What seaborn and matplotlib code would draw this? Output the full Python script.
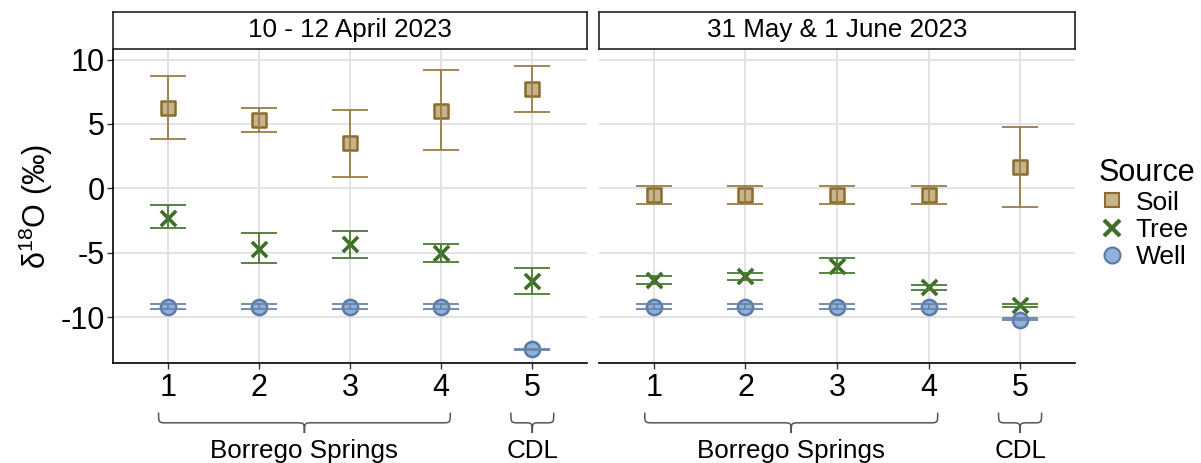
import numpy as np
import pandas as pd
import matplotlib
matplotlib.use("Agg")
import matplotlib.pyplot as plt
import matplotlib.transforms as mtransforms
from matplotlib.path import Path
from matplotlib.patches import PathPatch
from matplotlib.lines import Line2D
import seaborn as sns

# ---- data -------------------------------------------------------------
panels = ["10 - 12 April 2023", "31 May & 1 June 2023"]
sites = [1, 2, 3, 4, 5]
sources = ["Soil", "Tree", "Well"]

# April campaign: mean, upper, lower
apr_soil_mean = [6.2, 5.3, 3.5, 6.0, 7.7]
apr_soil_hi = [8.7, 6.2, 6.1, 9.2, 9.5]
apr_soil_lo = [3.8, 4.4, 0.9, 3.0, 5.9]
apr_tree_mean = [-2.3, -4.7, -4.3, -5.0, -7.2]
apr_tree_hi = [-1.3, -3.5, -3.3, -4.3, -6.2]
apr_tree_lo = [-3.1, -5.8, -5.4, -5.7, -8.2]
apr_well_mean = [-9.2, -9.2, -9.2, -9.2, -12.5]
apr_well_hi = [-9.0, -9.0, -9.0, -9.0, -12.45]
apr_well_lo = [-9.4, -9.4, -9.4, -9.4, -12.55]

# May/June campaign
jun_soil_mean = [-0.55, -0.55, -0.55, -0.55, 1.65]
jun_soil_hi = [0.15, 0.15, 0.15, 0.15, 4.8]
jun_soil_lo = [-1.25, -1.25, -1.25, -1.25, -1.45]
jun_tree_mean = [-7.1, -6.85, -6.0, -7.7, -9.1]
jun_tree_hi = [-6.8, -6.6, -5.4, -7.5, -9.0]
jun_tree_lo = [-7.45, -7.1, -6.55, -7.9, -9.25]
jun_well_mean = [-9.2, -9.2, -9.2, -9.2, -10.2]
jun_well_hi = [-9.0, -9.0, -9.0, -9.0, -10.1]
jun_well_lo = [-9.4, -9.4, -9.4, -9.4, -10.2]

yticks = [-10, -5, 0, 5, 10]
site_groups = [("Borrego Springs", 1, 4), ("CDL", 5, 5)]

# ---- long table -------------------------------------------------------
rows = []
tables = {
    panels[0]: {"Soil": (apr_soil_mean, apr_soil_lo, apr_soil_hi),
                "Tree": (apr_tree_mean, apr_tree_lo, apr_tree_hi),
                "Well": (apr_well_mean, apr_well_lo, apr_well_hi)},
    panels[1]: {"Soil": (jun_soil_mean, jun_soil_lo, jun_soil_hi),
                "Tree": (jun_tree_mean, jun_tree_lo, jun_tree_hi),
                "Well": (jun_well_mean, jun_well_lo, jun_well_hi)},
}
for p in panels:
    for s in sources:
        m, lo, hi = tables[p][s]
        for i, site in enumerate(sites):
            rows.append(dict(panel=p, site=site, source=s, mean=m[i], lo=lo[i], hi=hi[i]))
df = pd.DataFrame(rows)

# ---- styling ----------------------------------------------------------
sns.set_theme(style="white")
plt.rcParams["font.family"] = ["Liberation Sans", "DejaVu Sans"]
plt.rcParams["mathtext.fontset"] = "custom"
plt.rcParams["mathtext.rm"] = "Liberation Sans"
plt.rcParams["text.color"] = "black"
plt.rcParams["axes.labelcolor"] = "black"
plt.rcParams["xtick.color"] = "black"
plt.rcParams["ytick.color"] = "black"

fill = {"Soil": "#c8b48c", "Tree": "#3f6e29", "Well": "#90b1de"}
edge = {"Soil": "#8a6c2c", "Tree": "#3f6e29", "Well": "#5b7aa3"}
barc = {"Soil": "#987d45", "Tree": "#4b7a35", "Well": "#6a84a8"}
marker = {"Soil": "s", "Tree": "x", "Well": "o"}
msize = {"Soil": 110, "Tree": 120, "Well": 120}

W, H = 1201, 463
fig = plt.figure(figsize=(W / 100, H / 100), dpi=100)

ax_boxes = [(113, 49, 587, 363), (599, 49, 1075, 363)]
strip_top = 12
ylim = (-13.57, 10.82)
xlim = (0.4, 5.6)


def brace(ax, x0, x1, y0, depth, r, **kw):
    """Curly brace spanning x0..x1 (data units) hanging from y0 (axes fraction)."""
    trans = mtransforms.blended_transform_factory(ax.transData, ax.transAxes)
    xm = (x0 + x1) / 2
    yh = y0 - depth / 2
    yt = y0 - depth
    verts = [(x0, y0), (x0, yh), (x0, yh), (x0 + r, yh),
             (xm - r, yh), (xm, yh), (xm, yh), (xm, yt),
             (xm, yh), (xm, yh), (xm + r, yh),
             (x1 - r, yh), (x1, yh), (x1, yh), (x1, y0)]
    codes = [Path.MOVETO, Path.CURVE4, Path.CURVE4, Path.CURVE4,
             Path.LINETO, Path.CURVE4, Path.CURVE4, Path.CURVE4,
             Path.CURVE4, Path.CURVE4, Path.CURVE4,
             Path.LINETO, Path.CURVE4, Path.CURVE4, Path.CURVE4]
    ax.add_patch(PathPatch(Path(verts, codes), transform=trans, fill=False,
                           clip_on=False, **kw))


for k, p in enumerate(panels):
    l, t, r_, b = ax_boxes[k]
    ax = fig.add_axes([l / W, 1 - b / H, (r_ - l) / W, (b - t) / H])
    sub = df[df.panel == p]

    for s in sources:
        d = sub[sub.source == s]
        if s == "Tree":
            sns.scatterplot(data=d, x="site", y="mean", marker="x", s=msize[s],
                            color=fill[s], linewidth=2.6, ax=ax, zorder=3,
                            legend=False)
        else:
            sns.scatterplot(data=d, x="site", y="mean", marker=marker[s],
                            s=msize[s], color=fill[s], edgecolor=edge[s],
                            linewidth=1.8, ax=ax, zorder=3, legend=False)
        ax.errorbar(d.site, d["mean"],
                    yerr=[d["mean"] - d.lo, d.hi - d["mean"]],
                    fmt="none", ecolor=barc[s], elinewidth=1.3, capsize=13.2,
                    capthick=1.3, zorder=4)

    ax.set_xlim(*xlim)
    ax.set_ylim(*ylim)
    ax.set_xticks(sites)
    ax.set_xticklabels([str(s) for s in sites], fontsize=22)
    ax.set_yticks(yticks)
    ax.grid(True, color="#e3e3e3", linewidth=1.4)
    ax.set_axisbelow(True)
    for side in ["top", "right"]:
        ax.spines[side].set_visible(False)
    ax.spines["bottom"].set_color("black")
    ax.spines["bottom"].set_linewidth(1.2)
    ax.set_xlabel("")
    if k == 0:
        ax.spines["left"].set_color("black")
        ax.spines["left"].set_linewidth(1.2)
        ax.set_yticklabels([str(v) for v in yticks], fontsize=22)
        ax.set_ylabel(r"δ$\mathregular{^{18}}$O (‰)", fontsize=22, labelpad=4)
        ax.tick_params(axis="y", left=True, length=4, width=1, color="#333333", pad=2)
    else:
        ax.spines["left"].set_visible(False)
        ax.set_yticklabels([])
        ax.set_ylabel("")
        ax.tick_params(axis="y", left=False, length=0)
    ax.tick_params(axis="x", bottom=True, length=4, width=1, color="#333333", pad=3)

    # site group braces
    trans = mtransforms.blended_transform_factory(ax.transData, ax.transAxes)
    for name, a, bb in site_groups:
        pad = 0.1 if bb > a else 0.235
        brace(ax, a - pad, bb + pad, -0.158, 0.065, 0.09,
              edgecolor="#555555", linewidth=1.1)
        ax.text((a + bb) / 2, -0.28, name, transform=trans, ha="center",
                va="center", fontsize=18.7, clip_on=False)

    # facet strip
    sax = fig.add_axes([l / W, 1 - t / H, (r_ - l) / W, (t - strip_top) / H])
    sax.set_xticks([])
    sax.set_yticks([])
    for sp in sax.spines.values():
        sp.set_visible(True)
        sp.set_color("#222222")
        sp.set_linewidth(1.2)
    sax.set_facecolor("white")
    sax.text(0.5, 0.5, p, ha="center", va="center", fontsize=18.7,
             transform=sax.transAxes)

# legend
handles = [
    Line2D([], [], linestyle="none", marker="s", markersize=10.5,
           markerfacecolor=fill["Soil"], markeredgecolor=edge["Soil"], markeredgewidth=1.5),
    Line2D([], [], linestyle="none", marker="x", markersize=11,
           color=fill["Tree"], markeredgewidth=3),
    Line2D([], [], linestyle="none", marker="o", markersize=11.5,
           markerfacecolor=fill["Well"], markeredgecolor=edge["Well"], markeredgewidth=1.5),
]
fig.legend(handles, sources, title="Source", loc="upper left",
           bbox_to_anchor=(1088 / W, 1 - 147 / H), frameon=False,
           fontsize=19, title_fontsize=22, handletextpad=0.4,
           labelspacing=0.12, borderaxespad=0, handlelength=1.0,
           alignment="left")

fig.savefig("out.png", dpi=100)
